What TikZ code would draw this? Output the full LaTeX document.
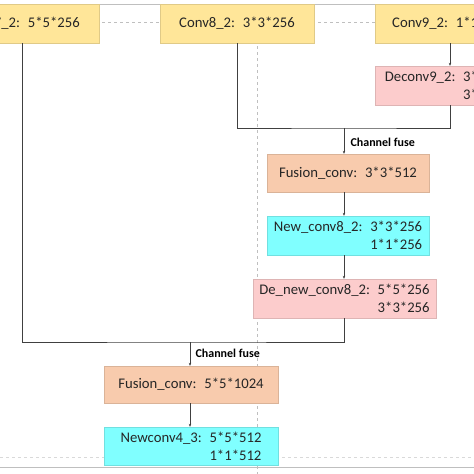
\documentclass[tikz,border=0pt]{standalone}
\usepackage{fontspec}
\setmainfont{Carlito}
\usepackage{tikz}
\usetikzlibrary{
  arrows.meta,
  calc
}
\definecolor{layeryellow}{HTML}{FFE699}
\definecolor{fusesalmon}{HTML}{F8CBAD}
\definecolor{newcyan}{HTML}{80FFFF}
\definecolor{deconvpink}{HTML}{FCCCCC}
\definecolor{wire}{HTML}{404040}
\tikzset{
  layer/.style={
    fill=#1,
    draw=#1!88!black,
    line width=0.4pt,
    minimum height=39pt,
    inner sep=2pt,
    align=right,
    text=black!85,
    font=\fontsize{14.7}{18}\selectfont},
  wireline/.style={
    draw=wire,
    line width=0.7pt},
  fuse/.style={
    wireline,
    -{Stealth[length=3pt,width=2.5pt]}},
  fuselabel/.style={
    font=\fontsize{12}{13}\selectfont\bfseries,
    anchor=west}
  }

\begin{document}
\begin{tikzpicture}[x=1pt,y=-1pt]
      \useasboundingbox (0,0) rectangle (474,474);
      \clip (0,0) rectangle (474,474);
      % frame of the page behind the diagram
      \draw[black!25, line width=0.8pt] (0,4) -- (474,4);
      \draw[black!25, dashed] (0,22) -- (474,22);
      \draw[black!25, dashed] (257,4) -- (257,474);
      \draw[black!15, dashed] (0,457) -- (474,457);
      \draw[black!25, line width=0.8pt] (0,467) -- (474,467);
      % base layers
      \node[layer=layeryellow, minimum width=155pt] (conv7) at (22,23.5) {Conv7\_2: \ 5*5*256};
      \node[layer=layeryellow, minimum width=154pt] (conv8) at (237,23.5) {Conv8\_2: \ 3*3*256};
      \node[layer=layeryellow, minimum width=150pt] (conv9) at (450,23.5) {Conv9\_2: \ 1*1*256};
      \node[layer=deconvpink, minimum width=150pt] (deconv9) at (450,85.5) {Deconv9\_2: \ 3*3*256\\3*3*256};
      % first fusion
      \coordinate (join1) at (344,128);
      \node[layer=fusesalmon, minimum width=162pt, minimum height=38pt] (fusion1) at (348,173) {Fusion\_conv: \ 3*3*512};
      \node[layer=newcyan, minimum width=162pt] (newconv8) at (348,235.5) {New\_conv8\_2: \ 3*3*256\\1*1*256};
      \node[layer=deconvpink, minimum width=183pt] (denew8) at (344.5,298.5) {De\_new\_conv8\_2: \ 5*5*256\\3*3*256};
      % second fusion
      \coordinate (join2) at (190,342);
      \node[layer=fusesalmon, minimum width=174pt, minimum height=37pt] (fusion2) at (191,384.5) {Fusion\_conv: \ 5*5*1024};
      \node[layer=newcyan, minimum width=174pt, minimum height=38pt] (newconv4) at (191,446) {Newconv4\_3: \ 5*5*512\\1*1*512};
      \draw[fuse] (conv9) -- (deconv9);
      \draw[wireline] (conv8.south) |- (join1) -| (deconv9.south);
      \draw[fuse] (join1) -- (fusion1.north -| join1);
      \draw[fuse] (fusion1.south -| join1) -- (newconv8.north -| join1);
      \draw[fuse] (newconv8.south -| join1) -- (denew8.north -| join1);
      \draw[wireline] (conv7.south) |- (join2) -| (denew8.south);
      \draw[fuse] (join2) -- (fusion2.north -| join2);
      \draw[fuse] (fusion2.south -| join2) -- (newconv4.north -| join2);
      \node[fuselabel] (fuselabel1) at (347,142) {Channel fuse};
      \node[fuselabel] (fuselabel2) at (192,353) {Channel fuse};
    \end{tikzpicture}
\end{document}
